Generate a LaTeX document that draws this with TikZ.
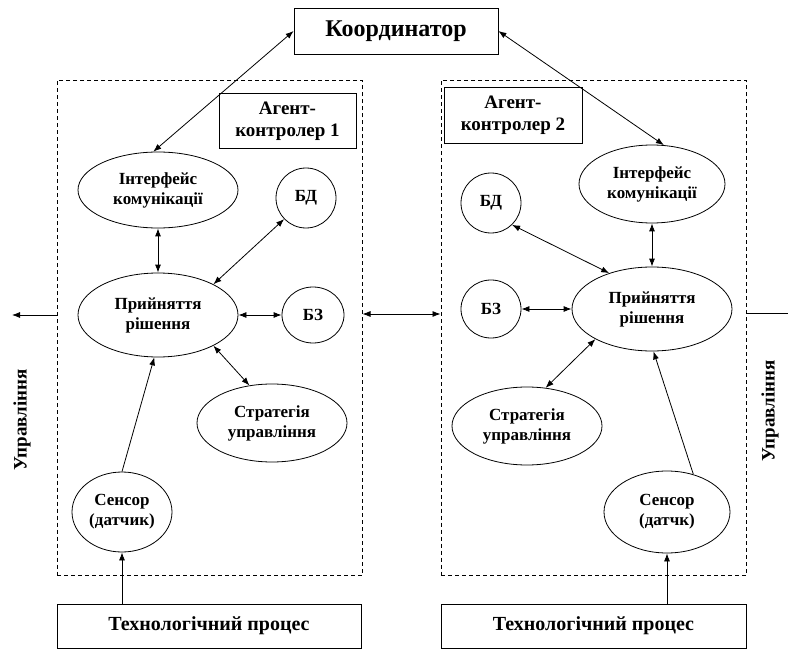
\documentclass[tikz,border=0pt]{standalone}
\usepackage{fontspec}
\setmainfont{Liberation Serif}
\usetikzlibrary{
  arrows.meta,
  positioning,
  shapes.geometric
}
\tikzset{
  ovalnode/.style={draw, ellipse, inner sep=0pt, align=center, line width=0.8pt,
    font=\bfseries\fontsize{17}{20}\selectfont},
  agentframe/.style={draw, dash pattern=on 4pt off 3pt, line width=1pt,
    minimum width=305pt, minimum height=495pt},
  plainbox/.style={draw, line width=0.8pt, align=center, inner sep=0pt,
    font=\bfseries\fontsize{19}{22}\selectfont},
  arr/.style={-{Latex[length=8pt,width=6pt]}, line width=0.8pt},
  darr/.style={{Latex[length=8pt,width=6pt]}-{Latex[length=8pt,width=6pt]}, line width=0.8pt},
}

\begin{document}
\begin{tikzpicture}[x=1pt, y=-1pt]
  \useasboundingbox (0,0) rectangle (788,650);

  % coordinator and agent frames
  \node[plainbox, minimum width=204pt, minimum height=46pt,
        font=\bfseries\fontsize{24}{28}\selectfont] (coord) at (396,31) {Координатор};
  \node[agentframe] (frameL) at (209.5,328) {};
  \node[agentframe] (frameR) at (593.5,328) {};
  \node[plainbox, minimum width=137pt, minimum height=55pt] (agentL) at (287.5,121) {Агент-\\контролер 1};
  \node[plainbox, minimum width=138pt, minimum height=56pt] (agentR) at (513,115) {Агент-\\контролер 2};

  % agent 1
  \node[ovalnode, minimum width=160pt, minimum height=76pt] (ifaceL) at (158,190) {Інтерфейс\\комунікації};
  \node[ovalnode, minimum width=60pt, minimum height=60pt] (bdL) at (306,198) {БД};
  \node[ovalnode, minimum width=160pt, minimum height=84pt] (decL) at (158,315) {Прийняття\\рішення};
  \node[ovalnode, minimum width=62pt, minimum height=56pt] (bzL) at (313,315) {БЗ};
  \node[ovalnode, minimum width=150pt, minimum height=78pt] (stratL) at (272,423) {Стратегія\\управління};
  \node[ovalnode, minimum width=100pt, minimum height=80pt] (sensL) at (122,512) {Сенсор\\(датчик)};

  % agent 2
  \node[ovalnode, minimum width=146pt, minimum height=78pt] (ifaceR) at (652,184) {Інтерфейс\\комунікації};
  \node[ovalnode, minimum width=60pt, minimum height=60pt] (bdR) at (491,203) {БД};
  \node[ovalnode, minimum width=160pt, minimum height=84pt] (decR) at (652,309) {Прийняття\\рішення};
  \node[ovalnode, minimum width=60pt, minimum height=58pt] (bzR) at (491,309) {БЗ};
  \node[ovalnode, minimum width=150pt, minimum height=78pt] (stratR) at (527,426) {Стратегія\\управління};
  \node[ovalnode, minimum width=126pt, minimum height=82pt] (sensR) at (667,512) {Сенсор\\(датчк)};

  % processes
  \node[plainbox, minimum width=304pt, minimum height=44pt,
        font=\bfseries\fontsize{20}{24}\selectfont] (procL) at (209,626) {Технологічний процес};
  \node[plainbox, minimum width=305pt, minimum height=44pt,
        font=\bfseries\fontsize{20}{24}\selectfont] (procR) at (593.5,626) {Технологічний процес};

  % control outputs
  \node[rotate=90, font=\bfseries\fontsize{19}{22}\selectfont] (ctrlTextL) at (22,420) {Управління};
  \node[rotate=90, font=\bfseries\fontsize{19}{22}\selectfont] (ctrlTextR) at (770,411) {Управління};
  \coordinate (ctrlL) at (12,315);
  \coordinate (ctrlR) at (788,313);
  \coordinate (link) at (400,314);

  \draw[darr] (coord.west) -- (ifaceL.97);
  \draw[darr] (coord.east) -- (ifaceR.73);
  \draw[arr] (frameL.west |- ctrlL) -- (ctrlL);
  \draw[line width=0.8pt] (frameR.east |- ctrlR) -- (ctrlR);
  \draw[darr] (frameL.east |- link) -- (frameR.west |- link);

  \foreach \a/\b in {ifaceL.south/decL.north, decL.29/bdL.224, decL/bzL, decL.-29/stratL.121,
                     ifaceR.south/decR.north, decR.140/bdR.-46, decR/bzR, decR.208/stratR.64} {
    \draw[darr] (\a) -- (\b);
  }
  \foreach \a/\b in {sensL.north/decL.-95, sensR.55/decR.-88, procL.north-|sensL.south/sensL.south,
                     procR.north-|sensR.south/sensR.south} {
    \draw[arr] (\a) -- (\b);
  }
\end{tikzpicture}
\end{document}
